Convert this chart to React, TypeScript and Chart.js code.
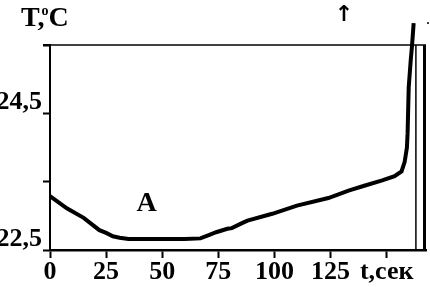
import React, { useEffect, useRef } from "react";
import { Chart, registerables } from "chart.js";

Chart.register(...registerables);

// time, seconds
const timeSec = [0, 7.5, 15, 22, 25, 28, 31, 35, 50, 60, 67, 71, 74, 79, 81, 86, 88, 99, 110, 124, 133, 140, 148, 153.5, 156.6, 158, 159, 159.3, 159.8, 160.7, 161.3, 162];
// temperature, °C
const tempC = [23.29, 23.11, 22.97, 22.79, 22.75, 22.7, 22.68, 22.66, 22.66, 22.66, 22.67, 22.72, 22.76, 22.81, 22.82, 22.9, 22.93, 23.03, 23.15, 23.26, 23.37, 23.44, 23.52, 23.58, 23.65, 23.79, 24.0, 24.21, 24.88, 25.28, 25.5, 25.82];

const xTickValues = [0, 25, 50, 75, 100, 125, 150];
const xTickLabels = ["0", "25", "50", "75", "100", "125", "t,сек"];
const yTickValues = [22.5, 23.5, 24.5, 25.5];
const yTickLabels = ["22,5", "", "24,5", ""];

const xMin = 0;
const xMax = 167.5;
const yMin = 22.5;
const yMax = 25.5;

const markerT = [163];
const curveLabel = "A";
const curveLabelAt = [43, 23.17];
const arrowT = [131];

const FONT = "'Liberation Serif', 'Times New Roman', serif";

export default function App() {
  const ref = useRef<HTMLCanvasElement | null>(null);

  useEffect(() => {
    document.body.style.margin = "0";
    const canvas = ref.current;
    if (!canvas) return;

    const overlay = {
      id: "overlay",
      afterDraw(chart: any) {
        const { ctx, chartArea, scales } = chart;
        const xs = scales.x;
        const ys = scales.y;
        ctx.save();
        ctx.strokeStyle = "#000";
        ctx.fillStyle = "#000";
        // top frame
        ctx.lineWidth = 1.5;
        ctx.beginPath();
        ctx.moveTo(chartArea.left, chartArea.top);
        ctx.lineTo(chartArea.right, chartArea.top);
        ctx.stroke();
        // top-left tick
        ctx.lineWidth = 2;
        ctx.beginPath();
        ctx.moveTo(chartArea.left - 7, chartArea.top);
        ctx.lineTo(chartArea.left, chartArea.top);
        ctx.stroke();
        // right thick frame
        ctx.lineWidth = 3;
        ctx.beginPath();
        ctx.moveTo(chartArea.right - 1.5, chartArea.top);
        ctx.lineTo(chartArea.right - 1.5, chartArea.bottom + 1);
        ctx.stroke();
        // thin marker line
        for (const m of markerT) {
          const mx = xs.getPixelForValue(m);
          ctx.lineWidth = 1.5;
          ctx.beginPath();
          ctx.moveTo(mx, chartArea.top);
          ctx.lineTo(mx, chartArea.bottom);
          ctx.stroke();
        }
        // axis title T,°C
        ctx.textBaseline = "alphabetic";
        ctx.textAlign = "left";
        ctx.font = `bold 28px ${FONT}`;
        ctx.fillText("T,", 21, 26);
        const wT = ctx.measureText("T,").width;
        ctx.font = `bold 14px ${FONT}`;
        ctx.fillText("o", 21 + wT - 3, 15);
        const wo = ctx.measureText("o").width;
        ctx.font = `bold 28px ${FONT}`;
        ctx.fillText("C", 21 + wT - 3 + wo, 26);
        // curve label
        ctx.font = `bold 28px ${FONT}`;
        ctx.textAlign = "center";
        ctx.textBaseline = "middle";
        ctx.fillText(curveLabel, xs.getPixelForValue(curveLabelAt[0]), ys.getPixelForValue(curveLabelAt[1]));
        // arrow
        ctx.font = `bold 22px 'DejaVu Sans', sans-serif`;
        for (const a of arrowT) {
          ctx.fillText("↑", xs.getPixelForValue(a), 15);
        }
        ctx.font = `bold 12px ${FONT}`;
        ctx.fillText("·", chartArea.right + 2, 24);
        ctx.restore();
      },
    };

    const chart = new Chart(canvas, {
      type: "line",
      data: {
        datasets: [
          {
            data: timeSec.map((t, i) => ({ x: t, y: tempC[i] })),
            borderColor: "#000",
            borderWidth: 4,
            pointRadius: 0,
            tension: 0,
            fill: false,
            clip: false as any,
          },
        ],
      },
      options: {
        animation: false,
        responsive: false,
        maintainAspectRatio: false,
        layout: { padding: { top: 45, right: 4, left: 0, bottom: 0 } },
        plugins: { legend: { display: false }, tooltip: { enabled: false } },
        scales: {
          x: {
            type: "linear",
            min: xMin,
            max: xMax,
            afterFit: (s: any) => {
              s.height = 37;
            },
            afterBuildTicks: (s: any) => {
              s.ticks = xTickValues.map((v) => ({ value: v }));
            },
            ticks: {
              autoSkip: false,
              maxRotation: 0,
              padding: 0,
              color: "#000",
              font: { family: FONT, size: 26, weight: "bold", lineHeight: 1.1 },
              callback: (v: any) => {
                const i = xTickValues.indexOf(Number(v));
                return i >= 0 ? xTickLabels[i] : "";
              },
            },
            grid: {
              drawOnChartArea: false,
              drawTicks: true,
              tickLength: 8,
              tickWidth: 2,
              tickColor: "#000",
              color: "#000",
            },
            border: { display: true, color: "#000", width: 2.5 },
          },
          y: {
            type: "linear",
            min: yMin,
            max: yMax,
            afterFit: (s: any) => {
              s.width = 50;
            },
            afterBuildTicks: (s: any) => {
              s.ticks = yTickValues.map((v) => ({ value: v }));
            },
            ticks: {
              autoSkip: false,
              padding: 1,
              color: "#000",
              font: { family: FONT, size: 26, weight: "bold", lineHeight: 0.85 },
              callback: (v: any) => {
                const i = yTickValues.findIndex((t) => Math.abs(t - Number(v)) < 1e-6);
                const l = i >= 0 ? yTickLabels[i] : "";
                return l ? [l, ""] : "";
              },
            },
            grid: {
              drawOnChartArea: false,
              drawTicks: true,
              tickLength: 7,
              tickWidth: 2,
              tickColor: "#000",
              color: "#000",
            },
            border: { display: true, color: "#000", width: 2 },
          },
        },
      },
      plugins: [overlay],
    } as any);

    return () => chart.destroy();
  }, []);

  return (
    <div style={{ width: 430, height: 287 }}>
      <canvas ref={ref} width={430} height={287} style={{ display: "block", width: 430, height: 287 }} />
    </div>
  );
}
